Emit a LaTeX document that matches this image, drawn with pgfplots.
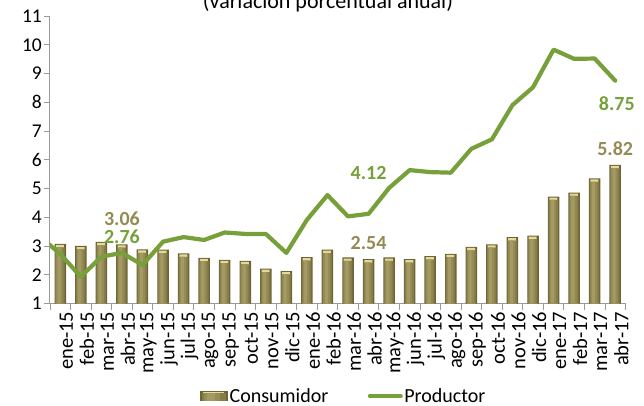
\documentclass[border=0pt]{standalone}
\usepackage{fontspec}
\setmainfont{Carlito}
\usepackage{pgfplots}
\usepackage{pgfplotstable}
\pgfplotsset{compat=1.18}
\definecolor{barA}{HTML}{6C6437}
\definecolor{barB}{HTML}{857C48}
\definecolor{barC}{HTML}{968C56}
\definecolor{barD}{HTML}{A49A64}
\definecolor{capC}{HTML}{E4D996}
\definecolor{lineG}{HTML}{77A03B}
\definecolor{txtO}{HTML}{948A54}
\definecolor{axG}{HTML}{9A9A9A}
\newcommand{\tickfont}{\fontsize{19.5bp}{22bp}\selectfont}
\newcommand{\xtickfont}{\fontsize{20.5bp}{22bp}\selectfont}
\newcommand{\legfont}{\fontsize{20bp}{22bp}\selectfont}
\newcommand{\lblfont}{\fontsize{20bp}{22bp}\selectfont\bfseries}
\newcommand{\titlefont}{\fontsize{22bp}{24bp}\selectfont}
\tikzset{lbl/.style={font=\lblfont, inner sep=1bp}}

\pgfplotstableread{
x cons
0 3.07
1 3.00
2 3.14
3 3.06
4 2.88
5 2.87
6 2.74
7 2.59
8 2.52
9 2.48
10 2.21
11 2.13
12 2.61
13 2.87
14 2.60
15 2.54
16 2.60
17 2.54
18 2.65
19 2.73
20 2.97
21 3.06
22 3.31
23 3.36
24 4.72
25 4.86
26 5.35
27 5.82
}\constab

\pgfplotstableread{
x prod
-1 3.34
0 2.72
1 1.93
2 2.63
3 2.76
4 2.34
5 3.15
6 3.31
7 3.21
8 3.47
9 3.42
10 3.42
11 2.76
12 3.91
13 4.77
14 4.03
15 4.12
16 5.02
17 5.64
18 5.57
19 5.55
20 6.38
21 6.71
22 7.90
23 8.52
24 9.83
25 9.51
26 9.52
27 8.75
}\prodtab

\begin{document}
\begin{tikzpicture}
\useasboundingbox (0,0) rectangle (644bp,406bp);
\begin{axis}[
  at={(50bp,102.5bp)}, anchor=south west,
  scale only axis, width=575.5bp, height=287.5bp,
  xmin=-0.5, xmax=27.5, ymin=1, ymax=11,
  clip mode=individual,
  axis x line*=bottom, axis y line*=left,
  axis line style={axG, line width=1bp, -},
  ytick={1,...,11},
  xtick={0,...,27},
  xticklabels={ene-15,feb-15,mar-15,abr-15,may-15,jun-15,jul-15,ago-15,sep-15,oct-15,nov-15,dic-15,ene-16,feb-16,mar-16,abr-16,may-16,jun-16,jul-16,ago-16,sep-16,oct-16,nov-16,dic-16,ene-17,feb-17,mar-17,abr-17},
  minor xtick={-0.5,0.5,...,27.5},
  tick align=outside,
  major tick length=6bp, minor tick length=6bp,
  tick style={axG, line width=0.8bp},
  major x tick style={draw=none},
  /pgf/number format/assume math mode=true,
  xticklabel style={font=\xtickfont, rotate=90, anchor=east, inner sep=2bp, yshift=-6bp},
  yticklabel style={font=\tickfont, anchor=east, inner sep=2bp},
  legend columns=2,
  legend style={at={(0.51,-0.322)}, anchor=center, draw=none, fill=none,
    font=\legfont, inner sep=0pt, nodes={inner sep=1.5bp},
    /tikz/every even column/.append style={column sep=38bp}},
]
% outer dark bar
\addplot[ybar, bar width=11.5bp, bar shift=0pt, draw=none, fill=barA,
  legend image code/.code={
    \fill[barA] (0bp,-5bp) rectangle (28bp,5bp);
    \fill[barB] (1.5bp,-5bp) rectangle (25.5bp,3.5bp);
    \fill[barC] (4bp,-5bp) rectangle (20bp,3.5bp);
    \fill[barD] (7bp,-5bp) rectangle (15bp,3.5bp);
    \fill[capC] (3bp,3.5bp) rectangle (24bp,4.3bp);}]
  table[x=x, y=cons] {\constab};
\addlegendentry{Consumidor}
% light cap
\addplot[ybar, forget plot, bar width=8bp, bar shift=-0.3bp, draw=none, fill=capC]
  table[x=x, y expr=\thisrow{cons}-0.035] {\constab};
% inner stripes
\addplot[ybar, forget plot, bar width=9.5bp, bar shift=-0.3bp, draw=none, fill=barB]
  table[x=x, y expr=\thisrow{cons}-0.12] {\constab};
\addplot[ybar, forget plot, bar width=6.5bp, bar shift=-0.8bp, draw=none, fill=barC]
  table[x=x, y expr=\thisrow{cons}-0.12] {\constab};
\addplot[ybar, forget plot, bar width=3bp, bar shift=-1.2bp, draw=none, fill=barD]
  table[x=x, y expr=\thisrow{cons}-0.12] {\constab};
% line
\addplot[lineG, line width=4.2bp, line join=round, line cap=round, mark=none, sharp plot,
  legend image code/.code={\draw[lineG, line width=4bp] (0bp,0bp) -- (31bp,0bp);}]
  table[x=x, y=prod] {\prodtab};
\addlegendentry{Productor}
\node[lbl, text=txtO] at (axis cs:3,3.96) {3.06};
\node[lbl, text=lineG] at (axis cs:3,3.31) {2.76};
\node[lbl, text=lineG] at (axis cs:15,5.55) {4.12};
\node[lbl, text=txtO] at (axis cs:15,3.11) {2.54};
\node[lbl, text=txtO] at (axis cs:27,6.40) {5.82};
\node[lbl, text=lineG] at (axis cs:27.08,7.94) {8.75};
\end{axis}
\node[font=\titlefont, anchor=base] at (328bp,397.7bp) {(variación porcentual anual)};
\end{tikzpicture}
\end{document}
